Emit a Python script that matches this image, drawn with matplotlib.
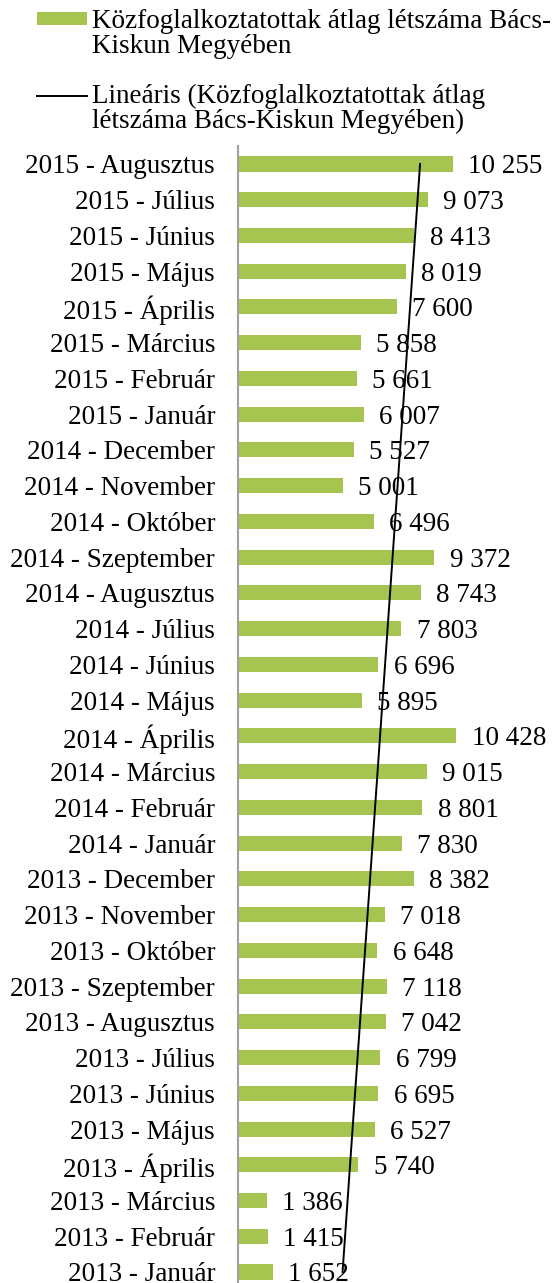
import matplotlib
matplotlib.use("Agg")
import matplotlib.pyplot as plt
import numpy as np
from matplotlib.patches import Rectangle
from matplotlib.lines import Line2D

categories = [
    "2013 - Január", "2013 - Február", "2013 - Március", "2013 - Április",
    "2013 - Május", "2013 - Június", "2013 - Július", "2013 - Augusztus",
    "2013 - Szeptember", "2013 - Október", "2013 - November", "2013 - December",
    "2014 - Január", "2014 - Február", "2014 - Március", "2014 - Április",
    "2014 - Május", "2014 - Június", "2014 - Július", "2014 - Augusztus",
    "2014 - Szeptember", "2014 - Október", "2014 - November", "2014 - December",
    "2015 - Január", "2015 - Február", "2015 - Március", "2015 - Április",
    "2015 - Május", "2015 - Június", "2015 - Július", "2015 - Augusztus",
]
values = [
    1652, 1415, 1386, 5740, 6527, 6695, 6799, 7042, 7118, 6648, 7018, 8382,
    7830, 8801, 9015, 10428, 5895, 6696, 7803, 8743, 9372, 6496, 5001, 5527,
    6007, 5661, 5858, 7600, 8019, 8413, 9073, 10255,
]
legend_labels = ["Közfoglalkoztatottak átlag létszáma Bács-\nKiskun Megyében",
                 "Lineáris (Közfoglalkoztatottak átlag\nlétszáma Bács-Kiskun Megyében)"]

plt.rcParams['font.family'] = ['Liberation Serif', 'DejaVu Serif']
FS = 19.5
green = "#A5C550"

W, H = 553, 1283
fig = plt.figure(figsize=(W / 100, H / 100), dpi=100)

n = len(values)
x0, x1 = 238, 553
step = (1272 - 164) / (n - 1)
top_px = 164 - step / 2
bot_px = 1272 + step / 2
ax = fig.add_axes([x0 / W, 1 - bot_px / H, (x1 - x0) / W, (bot_px - top_px) / H])

y = np.arange(n)
ax.barh(y, values, height=0.42, color=green, zorder=2)
ax.set_ylim(-0.5, n - 0.5)
scale = 0.02095  # px per unit
ax.set_xlim(0, (x1 - x0) / scale)

# linear trend line (Excel-style over index)
coef = np.polyfit(y + 1, values, 1)
ty = np.array([y[0], y[-1]])
ax.plot(np.polyval(coef, ty + 1), ty, color="black", lw=1.4, zorder=3)

for yi, v in zip(y, values):
    ax.annotate(f"{v:,}".replace(",", " "), (v, yi), xytext=(11, 0),
                textcoords="offset points", va="center_baseline", ha="left",
                fontsize=FS)

ax.set_yticks(y)
ax.set_yticklabels(categories, fontsize=FS)
ax.tick_params(axis="y", length=0, pad=16.5)
ax.set_xticks([])
for s in ["top", "right", "bottom"]:
    ax.spines[s].set_visible(False)
ax.spines["left"].set_color("#A0A0A0")
ax.spines["left"].set_linewidth(1.5)

# manual legend (handles aligned with first text line, as in the reference)
def fx(px):
    return px / W

def fy(py):
    return 1 - py / H

fig.patches.append(Rectangle((fx(37), fy(25)), fx(87) - fx(37), fy(12) - fy(25),
                             transform=fig.transFigure, facecolor=green,
                             edgecolor="none"))
fig.lines.append(Line2D([fx(37), fx(87)], [fy(96), fy(96)],
                        transform=fig.transFigure, color="black", lw=1.4))
fig.text(fx(92), fy(53), legend_labels[0], fontsize=FS, ha="left",
         va="baseline", linespacing=0.98, multialignment="left")
fig.text(fx(92), fy(128), legend_labels[1], fontsize=FS, ha="left",
         va="baseline", linespacing=0.98, multialignment="left")

fig.savefig("out.png", dpi=100)
